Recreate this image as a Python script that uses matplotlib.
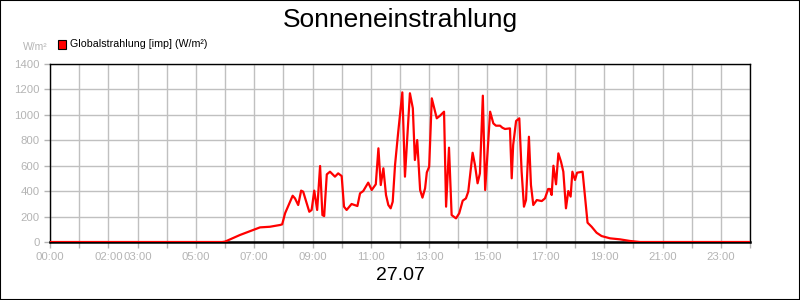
import matplotlib
matplotlib.use("Agg")
from matplotlib import pyplot as plt
from matplotlib.patches import Rectangle

plt.rcParams['font.family'] = ['Liberation Sans', 'DejaVu Sans']

# time of day in hours, irradiance in W/m2
hours = [0.0, 5.9, 6.0, 6.51, 7.2, 7.54, 7.89, 7.96, 8.06, 8.32, 8.40, 8.51, 8.61, 8.68,
         8.89, 8.97, 9.06, 9.16, 9.26, 9.34, 9.40, 9.49, 9.60, 9.77, 9.88, 10.0,
         10.08, 10.17, 10.34, 10.54, 10.63, 10.74, 10.91, 11.03, 11.17, 11.26, 11.34,
         11.43, 11.52, 11.60, 11.68, 11.75, 11.83, 11.94, 12.08, 12.17, 12.34, 12.44,
         12.51, 12.59, 12.69, 12.77, 12.86, 12.92, 13.0, 13.09, 13.26, 13.37, 13.51,
         13.58, 13.68, 13.77, 13.92, 14.03, 14.15, 14.26, 14.34, 14.49, 14.57, 14.66,
         14.74, 14.84, 14.92, 15.09, 15.2, 15.29, 15.43, 15.51, 15.6, 15.77, 15.83,
         15.88, 15.98, 16.09, 16.17, 16.25, 16.32, 16.42, 16.49, 16.57, 16.69, 16.86,
         16.97, 17.08, 17.14, 17.2, 17.26, 17.35, 17.43, 17.52, 17.6, 17.69, 17.77,
         17.85, 17.91, 18.0, 18.07, 18.26, 18.43, 18.57, 18.74, 18.91, 19.2, 19.54,
         19.89, 20.23, 24.0]
values = [0, 0, 3, 55, 115, 120, 134, 139, 226, 364, 343, 291, 404, 396,
          238, 252, 404, 252, 598, 212, 204, 532, 553, 514, 540, 519,
          278, 252, 299, 283, 383, 401, 467, 409, 454, 737, 448,
          580, 370, 291, 265, 317, 606, 868, 1177, 514, 1170, 1052,
          645, 802, 409, 349, 422, 548, 592, 1130, 973, 993, 1025,
          278, 742, 212, 186, 226, 325, 343, 396, 702, 606, 462,
          540, 1151, 409, 1025, 933, 915, 915, 899, 889, 894, 501,
          763, 952, 973, 553, 278, 330, 828, 448, 291, 330, 322,
          343, 417, 417, 370, 600, 454, 697, 632, 553, 265, 401,
          357, 553, 488, 545, 553, 152, 120, 73, 47, 29, 21,
          8, 0, 0]
tick_labels = {0: '00:00', 2: '02:00', 3: '03:00', 5: '05:00', 7: '07:00', 9: '09:00',
               11: '11:00', 13: '13:00', 15: '15:00', 17: '17:00', 19: '19:00',
               21: '21:00', 23: '23:00'}

grey = '#b4b4b4'
fig = plt.figure(figsize=(8, 3), dpi=100)
fig.patches.append(Rectangle((0, 0), 1, 1, transform=fig.transFigure, fill=False,
                             edgecolor='black', linewidth=1.5))
ax = fig.add_axes([0.0625, 0.1933, 0.875, 0.5933])

ax.plot(hours, values, color='#ff0000', linewidth=1.6, zorder=3)
ax.set_xlim(0, 24)
ax.set_ylim(0, 1400)
ax.set_yticks(range(0, 1401, 200))
ax.set_xticks(range(0, 25))
ax.set_xticklabels([tick_labels.get(h, '') for h in range(0, 25)])
ax.grid(True, color='#c0c0c0', linewidth=1)
ax.set_axisbelow(True)
ax.tick_params(axis='both', colors=grey, labelcolor=grey, labelsize=8.2, length=4, width=1)
for s in ax.spines.values():
    s.set_color('black')
    s.set_linewidth(1)
ax.spines['bottom'].set_linewidth(1.8)

fig.text(0.5, 0.935, 'Sonneneinstrahlung', ha='center', va='center', fontsize=19)
fig.text(0.5, 0.083, '27.07', ha='center', va='center', fontsize=14)
fig.text(0.059, 0.845, 'W/m²', ha='right', va='center', fontsize=7.5, color=grey)
fig.patches.append(Rectangle((0.0725, 0.838), 0.0095, 0.03, transform=fig.transFigure,
                             facecolor='#ff0000', edgecolor='black', linewidth=0.8))
fig.text(0.087, 0.853, 'Globalstrahlung [imp] (W/m²)', ha='left', va='center', fontsize=7.7)

fig.savefig('out.png', dpi=100)
